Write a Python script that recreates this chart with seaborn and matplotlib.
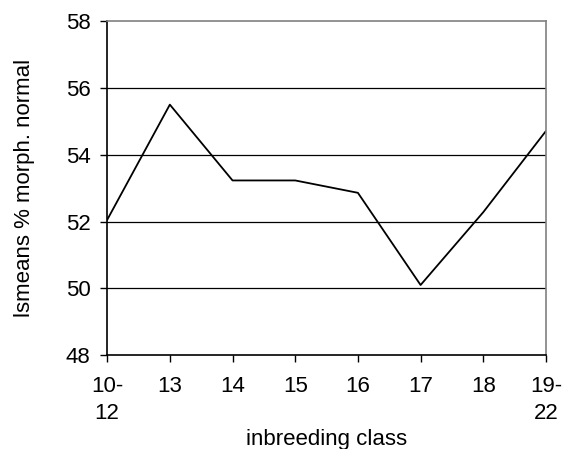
import matplotlib
matplotlib.use("Agg")
import matplotlib.pyplot as plt
import seaborn as sns

classes = ["10-\n12", "13", "14", "15", "16", "17", "18", "19-\n22"]
lsmeans = [52.05, 55.5, 53.23, 53.23, 52.86, 50.1, 52.28, 54.71]
y_ticks = [48, 50, 52, 54, 56, 58]

sns.set_style("white")
plt.rcParams['font.family'] = ['Liberation Sans', 'DejaVu Sans']
plt.rcParams['text.color'] = 'black'
plt.rcParams['axes.labelcolor'] = 'black'
plt.rcParams['xtick.color'] = 'black'
plt.rcParams['ytick.color'] = 'black'

fig, ax = plt.subplots(figsize=(5.64, 4.49), dpi=100)
fig.subplots_adjust(left=0.190, right=0.968, top=0.953, bottom=0.209)

sns.lineplot(x=classes, y=lsmeans, color="black", linewidth=1.3, ax=ax, sort=False)

ax.set_ylim(48, 58)
ax.set_xlim(0, len(classes) - 1)
ax.set_yticks(y_ticks)
for v in y_ticks[1:-1]:
    ax.axhline(v, color="black", linewidth=0.9, zorder=0)

ax.spines["left"].set_color("black")
ax.spines["bottom"].set_color("black")
ax.spines["top"].set_color("#808080")
ax.spines["right"].set_color("#808080")
for s in ax.spines.values():
    s.set_linewidth(1.2)

ax.tick_params(axis="both", which="major", direction="out", length=5, width=1,
               labelsize=16, left=True, bottom=True)
ax.tick_params(axis="y", pad=7)
ax.tick_params(axis="x", pad=10)
for lbl in ax.get_xticklabels():
    lbl.set_linespacing(1.35)
ax.set_xlabel("inbreeding class", fontsize=16, labelpad=4)
ax.set_ylabel("lsmeans % morph. normal", fontsize=16, labelpad=22)

fig.savefig("out.png", dpi=100)
